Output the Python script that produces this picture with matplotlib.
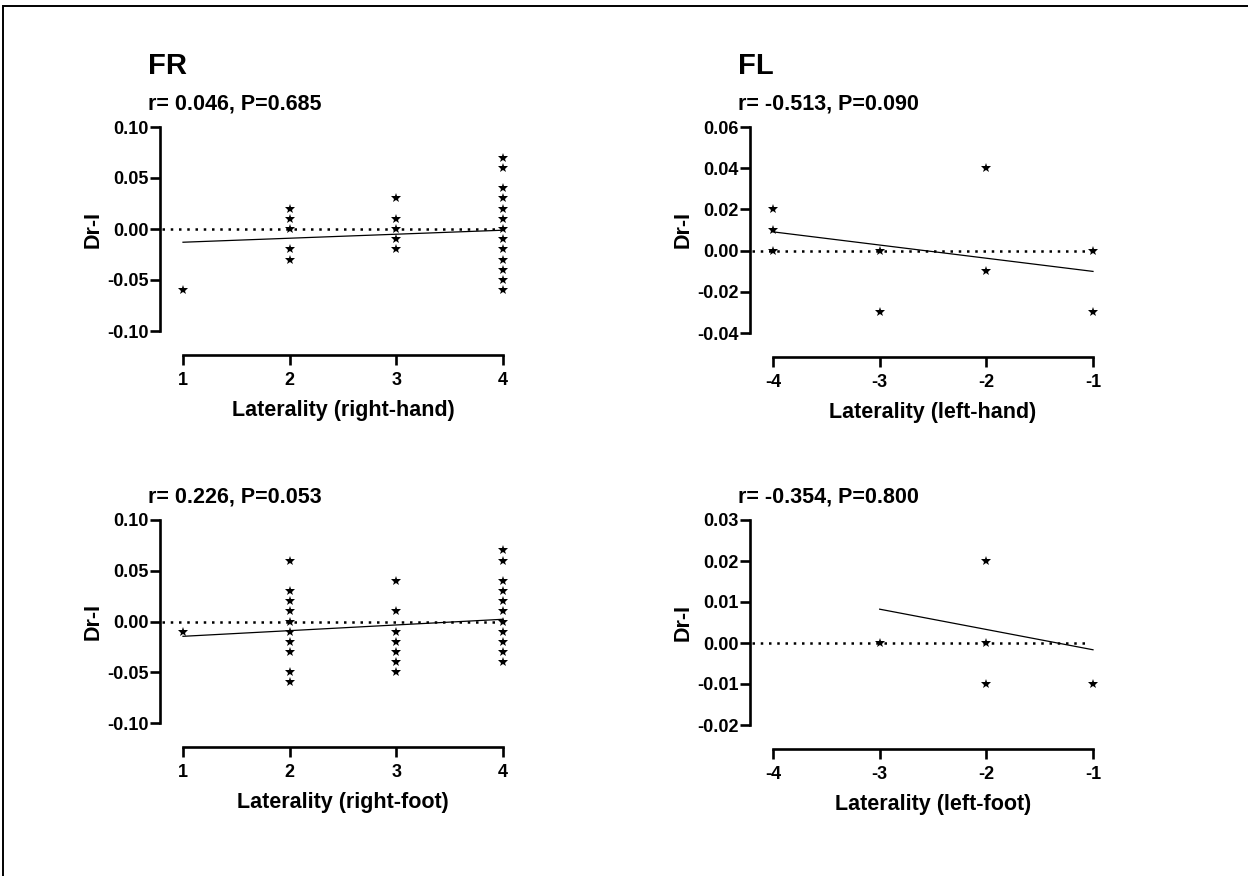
import matplotlib
matplotlib.use("Agg")
import matplotlib.pyplot as plt
import numpy as np
from matplotlib.patches import Rectangle

plt.rcParams['font.family'] = ['Liberation Sans', 'DejaVu Sans']
plt.rcParams['font.weight'] = 'bold'

# ---- data ----
fr_hand_x = [1, 2, 2, 2, 2, 2, 3, 3, 3, 3, 3] + [4] * 13
fr_hand_y = [-0.06, 0.02, 0.01, 0.00, -0.02, -0.03, 0.03, 0.01, 0.00, -0.01, -0.02,
             0.07, 0.06, 0.04, 0.03, 0.02, 0.01, 0.00, -0.01, -0.02, -0.03, -0.04, -0.05, -0.06]

fl_hand_x = [-4, -4, -4, -3, -3, -2, -2, -1, -1]
fl_hand_y = [0.02, 0.01, 0.00, 0.00, -0.03, 0.04, -0.01, 0.00, -0.03]

fr_foot_x = [1] + [2] * 10 + [3] * 7 + [4] * 11
fr_foot_y = [-0.01,
             0.06, 0.03, 0.02, 0.01, 0.00, -0.01, -0.02, -0.03, -0.05, -0.06,
             0.04, 0.01, -0.01, -0.02, -0.03, -0.04, -0.05,
             0.07, 0.06, 0.04, 0.03, 0.02, 0.01, 0.00, -0.01, -0.02, -0.03, -0.04]

fl_foot_x = [-3, -2, -2, -2, -1]
fl_foot_y = [0.00, 0.02, 0.00, -0.01, -0.01]

# regression lines (intercept, slope)
fit_intercepts = [-0.0169, -0.0165, -0.0202, -0.0066]
fit_slopes = [0.00393, -0.0064, 0.0056, -0.00495]

stat_texts = ["r= 0.046, P=0.685", "r= -0.513, P=0.090",
              "r= 0.226, P=0.053", "r= -0.354, P=0.800"]
xlabels = ["Laterality (right-hand)", "Laterality (left-hand)",
           "Laterality (right-foot)", "Laterality (left-foot)"]
group_titles = ["FR", "FL"]
xticks_right = [1, 2, 3, 4]
xticks_left = [-4, -3, -2, -1]
yticks_list = [
    [-0.10, -0.05, 0.00, 0.05, 0.10],
    [-0.04, -0.02, 0.00, 0.02, 0.04, 0.06],
    [-0.10, -0.05, 0.00, 0.05, 0.10],
    [-0.02, -0.01, 0.00, 0.01, 0.02, 0.03],
]
ylabel = "Dr-I"

# ---- figure ----
W, H = 1248, 876
fig = plt.figure(figsize=(W / 100, H / 100), dpi=100)
fig.patches.append(Rectangle((3 / W, -0.02), 1.0, 1.02 - 6 / H, transform=fig.transFigure,
                             fill=False, edgecolor='black', linewidth=1.4, zorder=0))

# axes positions in pixels: (left, top, right, bottom)
boxes = [(183, 127, 503, 331), (773, 127, 1093, 333),
         (183, 520, 503, 723), (773, 520, 1093, 725)]

datasets = [(fr_hand_x, fr_hand_y), (fl_hand_x, fl_hand_y),
            (fr_foot_x, fr_foot_y), (fl_foot_x, fl_foot_y)]

for i, (ax_box, (xs, ys)) in enumerate(zip(boxes, datasets)):
    l, t, r, b = ax_box
    ax = fig.add_axes([l / W, 1 - b / H, (r - l) / W, (b - t) / H])
    xticks = xticks_right if i % 2 == 0 else xticks_left
    yt = yticks_list[i]
    for s in ['top', 'right']:
        ax.spines[s].set_visible(False)
    ax.spines['left'].set_position(('outward', 16.5))
    ax.spines['bottom'].set_position(('outward', 17.5))
    ax.spines['left'].set_linewidth(1.9)
    ax.spines['bottom'].set_linewidth(1.9)
    ax.tick_params(axis='y', direction='out', length=7, width=1.9, pad=1, labelsize=13)
    ax.tick_params(axis='x', direction='out', length=7, width=1.9, pad=5, labelsize=13)
    ax.set_xlim(min(xticks), max(xticks))
    ax.set_ylim(min(yt), max(yt))
    ax.set_xticks(xticks)
    ax.set_yticks(yt)
    ax.set_xticklabels([str(v) for v in xticks], fontsize=13, fontweight='bold')
    ax.set_yticklabels([f"{v:.2f}" for v in yt], fontsize=13, fontweight='bold')
    ax.patch.set_visible(False)

    # zero reference line
    ax.axhline(0, xmin=-0.065, xmax=0.985 if i == 3 else 1.0, color='black',
               linewidth=1.8, linestyle=(0, (1, 2.3)), clip_on=False, zorder=1)
    # regression line
    xr = np.array([min(xs), max(xs)], dtype=float)
    ax.plot(xr, fit_intercepts[i] + fit_slopes[i] * xr, color='black',
            linewidth=0.9, zorder=2, clip_on=False)
    # points
    ax.plot(xs, ys, linestyle='none', marker='*', markersize=7.5, color='black',
            markeredgewidth=0, zorder=3, clip_on=False)

    ax.set_xlabel(xlabels[i], fontsize=15.5, fontweight='bold', labelpad=8)
    ax.set_ylabel(ylabel, fontsize=15.5, fontweight='bold', labelpad=3)

    # stats text
    fig.text((l - 35) / W, 1 - (t - 23) / H, stat_texts[i], fontsize=15.5,
             fontweight='bold', ha='left', va='center')
    if i < 2:
        fig.text((l - 35) / W, 1 - (t - 61) / H, group_titles[i], fontsize=21,
                 fontweight='bold', ha='left', va='center')

fig.savefig("out.png", dpi=100)
